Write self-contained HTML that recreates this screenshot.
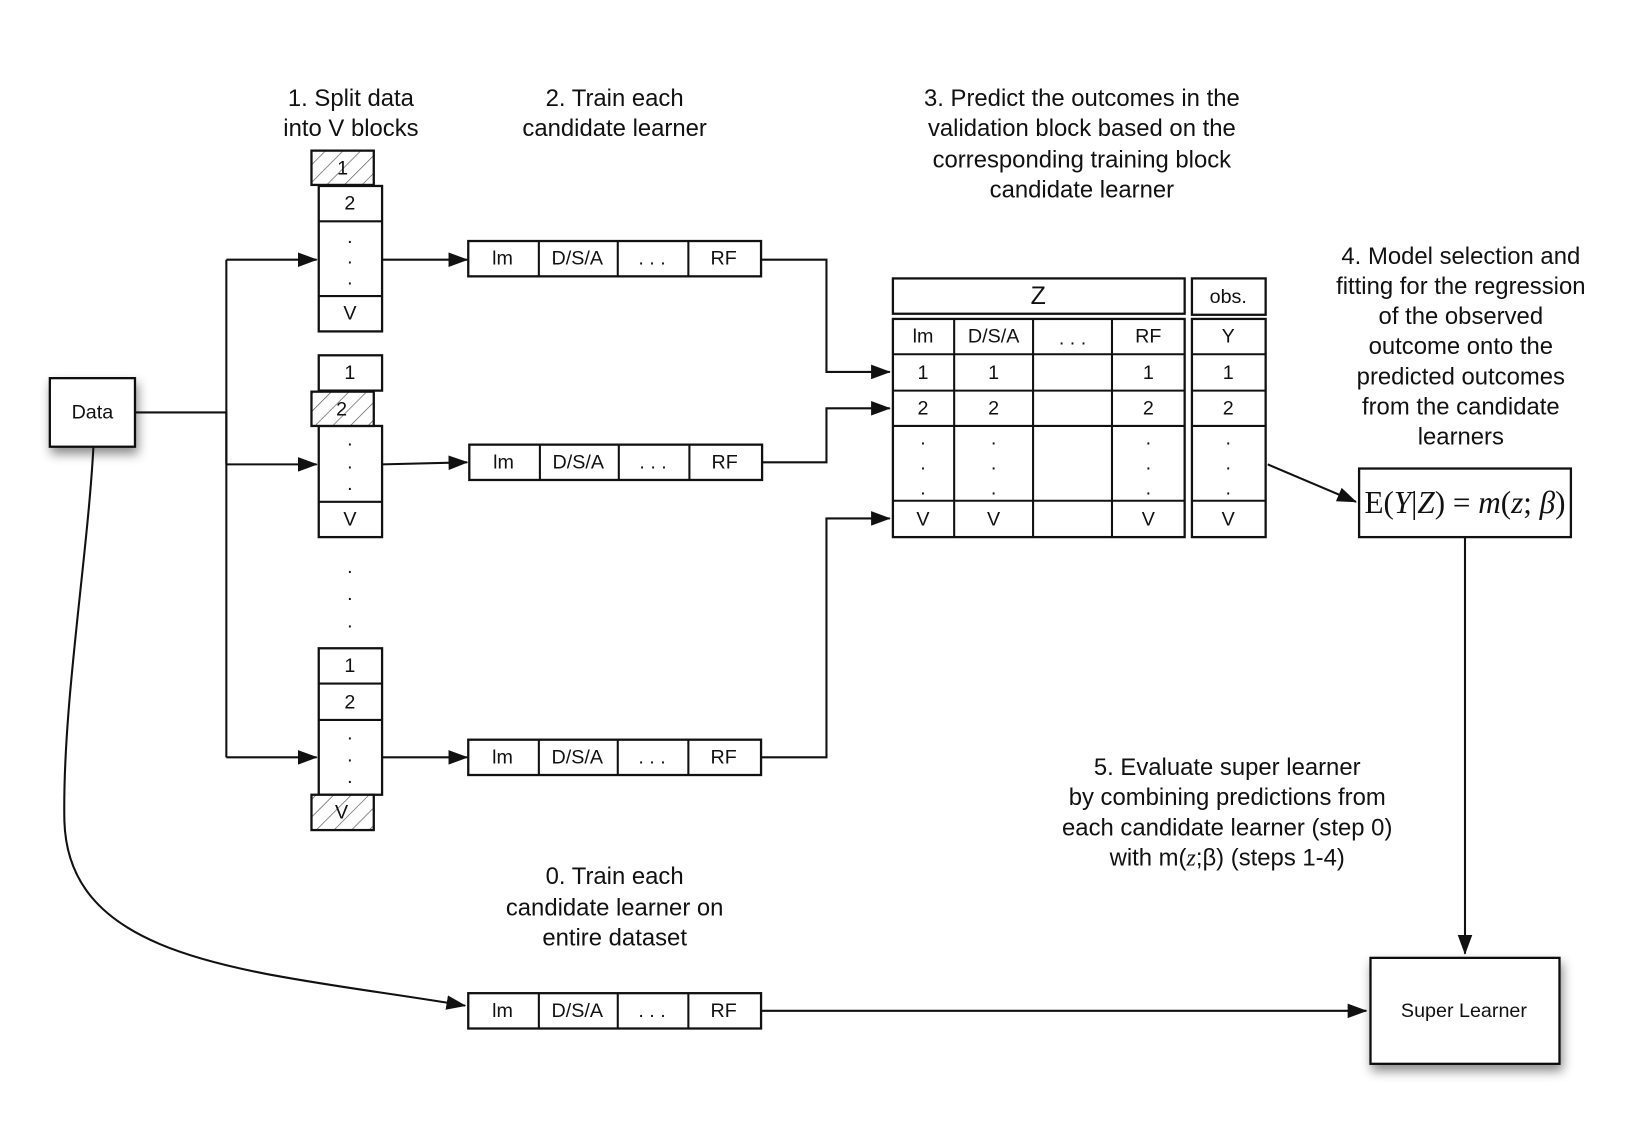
<!DOCTYPE html>
<html><head><meta charset="utf-8"><style>
html,body{margin:0;padding:0;background:#fff;}
svg{display:block;}
text{font-family:"Liberation Sans",sans-serif;fill:#111;}
.t{font-size:23px;text-anchor:middle;}
.c{font-size:19px;text-anchor:middle;dominant-baseline:central;}
.b{fill:#fff;stroke:#111;stroke-width:2.2;}
.h{fill:url(#hatch);stroke:#111;stroke-width:2.2;}
.l{fill:none;stroke:#111;stroke-width:2;}
</style></head><body>
<svg width="1628" height="1122" viewBox="0 0 1568 1080" preserveAspectRatio="none" xmlns="http://www.w3.org/2000/svg">
<defs>
<pattern id="hatch" patternUnits="userSpaceOnUse" width="12" height="12" patternTransform="rotate(45)">
<rect width="12" height="12" fill="#fff"/><line x1="0" y1="0" x2="0" y2="12" stroke="#555" stroke-width="1.3"/>
</pattern>
<marker id="ar" markerWidth="19" markerHeight="14" refX="18" refY="7" orient="auto" markerUnits="userSpaceOnUse" viewBox="0 0 19 14">
<path d="M0,0 L19,7 L0,14 z" fill="#111"/></marker>
<filter id="sh" x="-30%" y="-30%" width="160%" height="160%"><feDropShadow dx="2" dy="6" stdDeviation="5" flood-color="#000" flood-opacity="0.45"/></filter>
</defs>

<g><text class="t" x="338" y="102">1. Split data</text><text class="t" x="338" y="131">into V blocks</text></g>
<g><text class="t" x="592" y="102">2. Train each</text><text class="t" x="592" y="131">candidate learner</text></g>
<g><text class="t" x="1042" y="102">3. Predict the outcomes in the</text><text class="t" x="1042" y="131">validation block based on the</text><text class="t" x="1042" y="161">corresponding training block</text><text class="t" x="1042" y="190">candidate learner</text></g>
<g><text class="t" x="1407" y="254">4. Model selection and</text><text class="t" x="1407" y="283">fitting for the regression</text><text class="t" x="1407" y="312">of the observed</text><text class="t" x="1407" y="341">outcome onto the</text><text class="t" x="1407" y="370">predicted outcomes</text><text class="t" x="1407" y="399">from the candidate</text><text class="t" x="1407" y="428">learners</text></g>
<g><text class="t" x="1182" y="746">5. Evaluate super learner</text><text class="t" x="1182" y="775">by combining predictions from</text><text class="t" x="1182" y="804">each candidate learner (step 0)</text><text class="t" x="1182" y="833">with m(<tspan font-family="Liberation Serif" font-style="italic">z</tspan>;β) (steps 1-4)</text></g>
<g><text class="t" x="592" y="851">0. Train each</text><text class="t" x="592" y="881">candidate learner on</text><text class="t" x="592" y="910">entire dataset</text></g>

<g><rect class="b" x="48" y="364" width="82" height="66" filter="url(#sh)"/><text class="c" x="89" y="397">Data</text></g>

<path class="l" d="M130,397 H218 V447"/>
<path class="l" d="M218,250 V729"/>
<path class="l" d="M218,250 H305" marker-end="url(#ar)"/>
<path class="l" d="M218,447 H305" marker-end="url(#ar)"/>
<path class="l" d="M218,729 H305" marker-end="url(#ar)"/>
<path class="l" d="M90,430 C84,540 60,680 62,790 C66,930 250,935 448,968" marker-end="url(#ar)"/>

<g>
<rect class="b" x="307" y="179" width="61" height="140"/>
<line class="l" x1="307" y1="213" x2="368" y2="213"/><line class="l" x1="307" y1="285" x2="368" y2="285"/>
<rect class="h" x="300" y="145" width="60" height="33"/>
<text class="c" x="330" y="162">1</text><text class="c" x="337" y="196">2</text>
<text class="c" x="337" y="228">.</text><text class="c" x="337" y="248">.</text><text class="c" x="337" y="268">.</text>
<text class="c" x="337" y="302">V</text></g>
<g>
<rect class="b" x="307" y="342" width="61" height="34"/>
<rect class="b" x="307" y="410" width="61" height="107"/>
<line class="l" x1="307" y1="483" x2="368" y2="483"/>
<rect class="h" x="300" y="377" width="60" height="33"/>
<text class="c" x="337" y="359">1</text><text class="c" x="329" y="394">2</text>
<text class="c" x="337" y="423">.</text><text class="c" x="337" y="445">.</text><text class="c" x="337" y="466">.</text>
<text class="c" x="337" y="500">V</text></g>
<g><text class="c" x="337" y="546">.</text><text class="c" x="337" y="572">.</text><text class="c" x="337" y="598">.</text></g>
<g>
<rect class="b" x="307" y="624" width="61" height="141"/>
<line class="l" x1="307" y1="658" x2="368" y2="658"/><line class="l" x1="307" y1="693" x2="368" y2="693"/>
<rect class="h" x="300" y="765" width="60" height="34"/>
<text class="c" x="337" y="641">1</text><text class="c" x="337" y="676">2</text>
<text class="c" x="337" y="706">.</text><text class="c" x="337" y="727">.</text><text class="c" x="337" y="748">.</text>
<text class="c" x="329" y="782">V</text></g>

<path class="l" d="M368,250 H450" marker-end="url(#ar)"/>
<path class="l" d="M368,447 L450,445" marker-end="url(#ar)"/>
<path class="l" d="M368,729 H450" marker-end="url(#ar)"/>

<g transform="translate(0,232)">
<rect class="b" x="451" y="0" width="282" height="34"/><line class="l" x1="519" y1="0" x2="519" y2="34"/><line class="l" x1="595" y1="0" x2="595" y2="34"/><line class="l" x1="663" y1="0" x2="663" y2="34"/>
<text class="c" x="484" y="17">lm</text><text class="c" x="556" y="17">D/S/A</text><text class="c" x="628" y="17">. . .</text><text class="c" x="697" y="17">RF</text></g>
<g transform="translate(1,428)">
<rect class="b" x="451" y="0" width="282" height="34"/><line class="l" x1="519" y1="0" x2="519" y2="34"/><line class="l" x1="595" y1="0" x2="595" y2="34"/><line class="l" x1="663" y1="0" x2="663" y2="34"/>
<text class="c" x="484" y="17">lm</text><text class="c" x="556" y="17">D/S/A</text><text class="c" x="628" y="17">. . .</text><text class="c" x="697" y="17">RF</text></g>
<g transform="translate(0,712)">
<rect class="b" x="451" y="0" width="282" height="34"/><line class="l" x1="519" y1="0" x2="519" y2="34"/><line class="l" x1="595" y1="0" x2="595" y2="34"/><line class="l" x1="663" y1="0" x2="663" y2="34"/>
<text class="c" x="484" y="17">lm</text><text class="c" x="556" y="17">D/S/A</text><text class="c" x="628" y="17">. . .</text><text class="c" x="697" y="17">RF</text></g>
<g transform="translate(0,956)">
<rect class="b" x="451" y="0" width="282" height="34"/><line class="l" x1="519" y1="0" x2="519" y2="34"/><line class="l" x1="595" y1="0" x2="595" y2="34"/><line class="l" x1="663" y1="0" x2="663" y2="34"/>
<text class="c" x="484" y="17">lm</text><text class="c" x="556" y="17">D/S/A</text><text class="c" x="628" y="17">. . .</text><text class="c" x="697" y="17">RF</text></g>

<path class="l" d="M733,250 H796 V358 H857" marker-end="url(#ar)"/>
<path class="l" d="M734,445 H796 V393 H857" marker-end="url(#ar)"/>
<path class="l" d="M733,729 H796 V499 H857" marker-end="url(#ar)"/>

<g>
<rect class="b" x="860" y="268" width="281" height="34"/><text class="c" x="1000" y="285" style="font-size:24px">Z</text>
<rect class="b" x="1148" y="268" width="71" height="35"/><text class="c" x="1183" y="286">obs.</text>
<rect class="b" x="860" y="307" width="281" height="210"/>
<rect class="b" x="1148" y="307" width="71" height="210"/>
<line class="l" x1="919" y1="307" x2="919" y2="517"/><line class="l" x1="995" y1="307" x2="995" y2="517"/><line class="l" x1="1071" y1="307" x2="1071" y2="517"/>
<line class="l" x1="860" y1="341" x2="1141" y2="341"/><line class="l" x1="860" y1="376" x2="1141" y2="376"/><line class="l" x1="860" y1="410" x2="1141" y2="410"/><line class="l" x1="860" y1="482" x2="1141" y2="482"/>
<line class="l" x1="1148" y1="341" x2="1219" y2="341"/><line class="l" x1="1148" y1="376" x2="1219" y2="376"/><line class="l" x1="1148" y1="410" x2="1219" y2="410"/><line class="l" x1="1148" y1="482" x2="1219" y2="482"/>
<text class="c" x="889" y="324">lm</text><text class="c" x="957" y="324">D/S/A</text><text class="c" x="1033" y="326">. . .</text><text class="c" x="1106" y="324">RF</text><text class="c" x="1183" y="324">Y</text>
<text class="c" x="889" y="359">1</text><text class="c" x="957" y="359">1</text><text class="c" x="1106" y="359">1</text><text class="c" x="1183" y="359">1</text>
<text class="c" x="889" y="393">2</text><text class="c" x="957" y="393">2</text><text class="c" x="1106" y="393">2</text><text class="c" x="1183" y="393">2</text>
<g><text class="c" x="889" y="422">.</text><text class="c" x="889" y="446">.</text><text class="c" x="889" y="470">.</text>
<text class="c" x="957" y="422">.</text><text class="c" x="957" y="446">.</text><text class="c" x="957" y="470">.</text>
<text class="c" x="1106" y="422">.</text><text class="c" x="1106" y="446">.</text><text class="c" x="1106" y="470">.</text>
<text class="c" x="1183" y="422">.</text><text class="c" x="1183" y="446">.</text><text class="c" x="1183" y="470">.</text></g>
<text class="c" x="889" y="500">V</text><text class="c" x="957" y="500">V</text><text class="c" x="1106" y="500">V</text><text class="c" x="1183" y="500">V</text>
</g>

<path class="l" d="M1221,447 L1306,483" marker-end="url(#ar)"/>

<g>
<rect class="b" x="1309" y="451" width="204" height="66"/>
<text x="1411" y="494" text-anchor="middle" font-size="30" style="font-family:'Liberation Serif',serif">E(<tspan font-style="italic">Y</tspan>|<tspan font-style="italic">Z</tspan>) = <tspan font-style="italic">m</tspan>(<tspan font-style="italic">z</tspan>; <tspan font-style="italic">β</tspan>)</text>
</g>
<path class="l" d="M1411,517 V918" marker-end="url(#ar)"/>
<path class="l" d="M733,973 H1316" marker-end="url(#ar)"/>

<g><rect class="b" x="1320" y="922" width="182" height="102" filter="url(#sh)"/><text class="c" x="1410" y="973">Super Learner</text></g>
</svg>
</body></html>
